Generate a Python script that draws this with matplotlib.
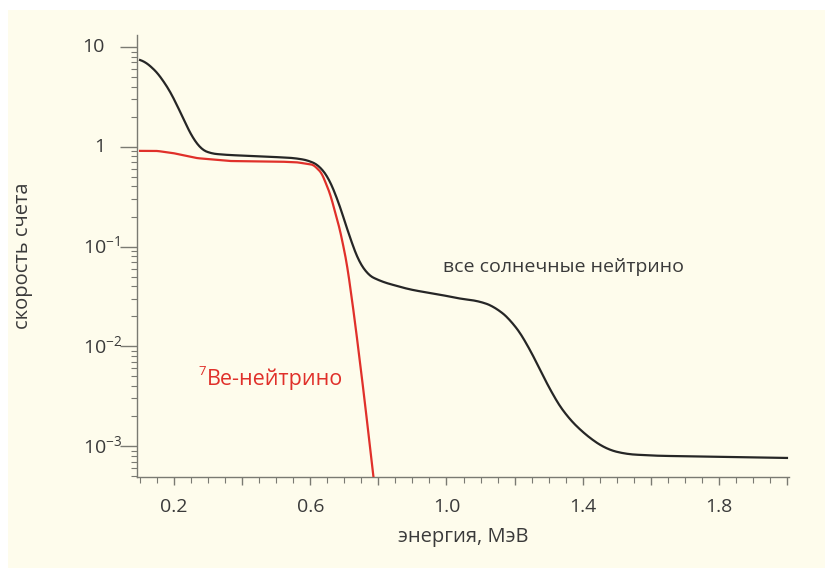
import numpy as np
import matplotlib.pyplot as plt
import matplotlib.transforms as mtransforms
from matplotlib.patches import Rectangle
from matplotlib.ticker import FixedLocator, MultipleLocator, LogLocator, NullFormatter

# All solar neutrinos (black curve).
all_energy = [0.10, 0.13, 0.169, 0.208, 0.237, 0.267, 0.296, 0.35, 0.462, 0.56, 0.609,
              0.638, 0.668, 0.697, 0.727, 0.756, 0.804, 0.893, 0.981, 1.039, 1.098,
              1.147, 1.196, 1.235, 1.274, 1.313, 1.352, 1.411, 1.47, 1.528, 1.617,
              1.8, 2.0]
all_rate = [7.7, 6.6, 4.7, 2.7, 1.6, 1.0, 0.865, 0.83, 0.80, 0.77, 0.71,
            0.61, 0.40, 0.20, 0.093, 0.055, 0.045, 0.037, 0.033, 0.030, 0.0284,
            0.0244, 0.0173, 0.0109, 0.0059, 0.0032, 0.0020, 0.00127, 0.00093, 0.00083, 0.0008,
            0.00078, 0.00076]

# 7Be neutrinos (red curve).
be_energy = [0.10, 0.149, 0.197, 0.267, 0.364, 0.511, 0.56, 0.609, 0.633, 0.658,
             0.687, 0.707, 0.721, 0.734, 0.760, 0.790, 0.80]
be_rate = [0.91, 0.91, 0.865, 0.77, 0.72, 0.71, 0.70, 0.66, 0.55, 0.34,
           0.148, 0.069, 0.032, 0.0148, 0.0028, 0.00035, 0.0002]

x_major = [0.2, 0.6, 1.0, 1.4, 1.8]
y_major = [1e-3, 1e-2, 1e-1, 1, 10]
y_labels = [r'$10^{-3}$', r'$10^{-2}$', r'$10^{-1}$', '1', '10']

plt.rcParams['font.family'] = ['Open Sans', 'DejaVu Sans']
plt.rcParams['mathtext.fontset'] = 'custom'
plt.rcParams['mathtext.rm'] = 'Open Sans'
plt.rcParams['mathtext.it'] = 'Open Sans:italic'

text_col = '#3a3a3a'
axis_col = '#7a7a72'
cream = '#fefcec'
red = '#e0302a'

fig = plt.figure(figsize=(8.25, 5.68), dpi=100)
fig.patches.append(Rectangle((8 / 825, 0), 1, 1 - 10 / 568, transform=fig.transFigure,
                             facecolor=cream, edgecolor='none', zorder=-10))
ax = fig.add_axes([137 / 825, 1 - 477 / 568, (789 - 137) / 825, (477 - 35) / 568])
ax.set_facecolor(cream)

# Smooth the curves in log space for drawing.
def smooth(xs, ys, n=600, k=9):
    xx = np.linspace(xs[0], xs[-1], n)
    yy = np.interp(xx, xs, np.log10(ys))
    pad = np.pad(yy, k, mode='edge')
    yy = np.convolve(pad, np.ones(2 * k + 1) / (2 * k + 1), mode='same')[k:-k]
    return xx, 10 ** yy

bx, by = smooth(all_energy, all_rate)
rx, ry = smooth(be_energy, be_rate, 400, 4)
ax.plot(bx, by, color='#262626', lw=1.6, zorder=3)
ax.plot(rx, ry, color=red, lw=1.6, zorder=4)

ax.set_yscale('log')
ax.set_xlim(0.091, 2.006)
ax.set_ylim(4.9e-4, 13.2)

for s in ['top', 'right']:
    ax.spines[s].set_visible(False)
for s in ['left', 'bottom']:
    ax.spines[s].set_color(axis_col)
    ax.spines[s].set_linewidth(1.0)

ax.xaxis.set_minor_locator(MultipleLocator(0.05))
ax.set_xticks(np.arange(0.2, 2.01, 0.2))
ax.set_xticklabels([str(v) if v in x_major else ''
                    for v in np.round(np.arange(0.2, 2.01, 0.2), 1)])
ax.yaxis.set_major_locator(FixedLocator(y_major))
ax.yaxis.set_major_formatter(NullFormatter())
ax.yaxis.set_minor_locator(LogLocator(base=10, subs=np.arange(2, 10)))
ax.yaxis.set_minor_formatter(NullFormatter())

ax.tick_params(which='major', width=1, color=axis_col, labelsize=14,
               labelcolor=text_col)
ax.tick_params(axis='x', which='major', length=6, pad=9)
ax.tick_params(axis='y', which='major', length=12)
ax.tick_params(which='minor', length=4, width=0.8, color=axis_col)

# y labels: the "10" bases line up on the right, exponents hang out
trans = mtransforms.blended_transform_factory(ax.transAxes, ax.transData)
for v, lab in zip(y_major, y_labels):
    if lab.startswith('$'):
        ax.text((83 - 137) / 652, v, lab, transform=trans, ha='left', va='center',
                fontsize=14, color=text_col)
    else:
        ax.text((105 - 137) / 652, v, lab, transform=trans, ha='right', va='center',
                fontsize=14, color=text_col)

ax.set_xlabel('энергия, МэВ', fontsize=14.5, color=text_col, labelpad=8)
ax.set_ylabel('скорость счета', fontsize=14.5, color=text_col)
ax.yaxis.set_label_coords(-0.16, 0.5)

ax.text(0.989, 0.062, 'все солнечные нейтрино', fontsize=14, color=text_col,
        ha='left', va='center')
ax.text(0.297, 0.0047, 'Be-нейтрино', fontsize=15.5, color=red,
        ha='left', va='center')
ax.annotate('7', (0.297, 0.0047), xytext=(-0.5, 0.5), textcoords='offset points',
            fontsize=9.5, color=red, ha='right', va='bottom')

fig.savefig('out.png', dpi=100, facecolor='white')
